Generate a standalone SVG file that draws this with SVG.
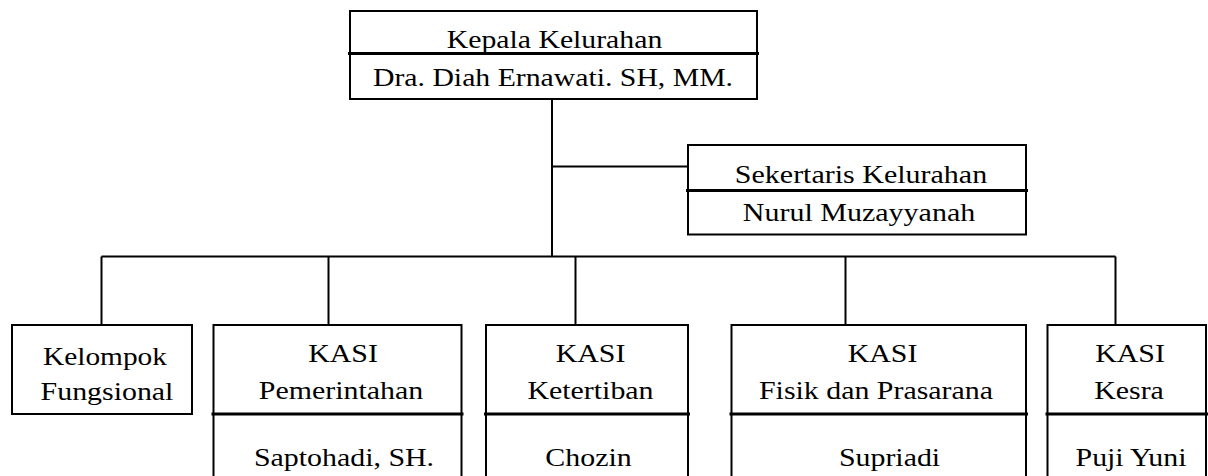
<svg xmlns="http://www.w3.org/2000/svg" width="1208" height="476" viewBox="0 0 1208 476">
<style>
  .box { fill: #ffffff; stroke: #000000; stroke-width: 2; }
  .div { stroke: #000000; stroke-width: 3; }
  .con { stroke: #000000; stroke-width: 2; fill: none; }
  text { font-family: "Liberation Serif", "Times New Roman", serif; font-size: 26px; fill: #000000; text-anchor: middle; }
  .top { font-size: 25px; }
</style>
<rect width="1208" height="476" fill="#ffffff"/>
<g id="connectors">
  <line class="con" x1="552" y1="99" x2="552" y2="256.5"/>
  <line class="con" x1="552" y1="166.5" x2="688" y2="166.5"/>
  <line class="con" x1="101.5" y1="256.5" x2="1115.5" y2="256.5"/>
  <line class="con" x1="101.5" y1="256.5" x2="101.5" y2="325"/>
  <line class="con" x1="328.5" y1="256.5" x2="328.5" y2="325"/>
  <line class="con" x1="575.5" y1="256.5" x2="575.5" y2="325"/>
  <line class="con" x1="845.5" y1="256.5" x2="845.5" y2="325"/>
  <line class="con" x1="1115.5" y1="256.5" x2="1115.5" y2="325"/>
</g>
<g id="kepala">
  <rect class="box" x="350" y="11" width="407" height="88"/>
  <line class="div" x1="348" y1="53.5" x2="759" y2="53.5"/>
  <text class="top" transform="translate(554.5,48) scale(1.19,1)">Kepala Kelurahan</text>
  <text class="top" transform="translate(553,86) scale(1.19,1)">Dra. Diah Ernawati. SH, MM.</text>
</g>
<g id="sekertaris">
  <rect class="box" x="688" y="145" width="338" height="89.5"/>
  <line class="div" x1="686" y1="190.5" x2="1028" y2="190.5"/>
  <text class="top" transform="translate(861,183) scale(1.2,1)">Sekertaris Kelurahan</text>
  <text class="top" transform="translate(859,220.5) scale(1.2,1)">Nurul Muzayyanah</text>
</g>
<g id="kelompok">
  <rect class="box" x="12" y="325" width="180" height="89"/>
  <text transform="translate(105,365) scale(1.13,1)">Kelompok</text>
  <text transform="translate(107,400) scale(1.15,1)">Fungsional</text>
</g>
<g id="pemerintahan">
  <rect class="box" x="213.5" y="325" width="248" height="170"/>
  <line class="div" x1="211.5" y1="414" x2="463.5" y2="414"/>
  <text transform="translate(343,362) scale(1.15,1)">KASI</text>
  <text transform="translate(341,398.5) scale(1.15,1)">Pemerintahan</text>
  <text transform="translate(344,466) scale(1.15,1)">Saptohadi, SH.</text>
</g>
<g id="ketertiban">
  <rect class="box" x="486" y="325" width="202" height="170"/>
  <line class="div" x1="484" y1="414" x2="690" y2="414"/>
  <text transform="translate(590.5,362) scale(1.15,1)">KASI</text>
  <text transform="translate(590.5,398.5) scale(1.15,1)">Ketertiban</text>
  <text transform="translate(588.5,466) scale(1.15,1)">Chozin</text>
</g>
<g id="fisik">
  <rect class="box" x="731.5" y="325" width="294.5" height="170"/>
  <line class="div" x1="729.5" y1="414" x2="1028" y2="414"/>
  <text transform="translate(882.5,362) scale(1.15,1)">KASI</text>
  <text transform="translate(876,398.5) scale(1.15,1)">Fisik dan Prasarana</text>
  <text transform="translate(889.5,466) scale(1.15,1)">Supriadi</text>
</g>
<g id="kesra">
  <rect class="box" x="1047.5" y="325" width="158.5" height="170"/>
  <line class="div" x1="1045.5" y1="414" x2="1208" y2="414"/>
  <text transform="translate(1130,362) scale(1.15,1)">KASI</text>
  <text transform="translate(1129,398.5) scale(1.15,1)">Kesra</text>
  <text transform="translate(1131,466) scale(1.15,1)">Puji Yuni</text>
</g>
</svg>
